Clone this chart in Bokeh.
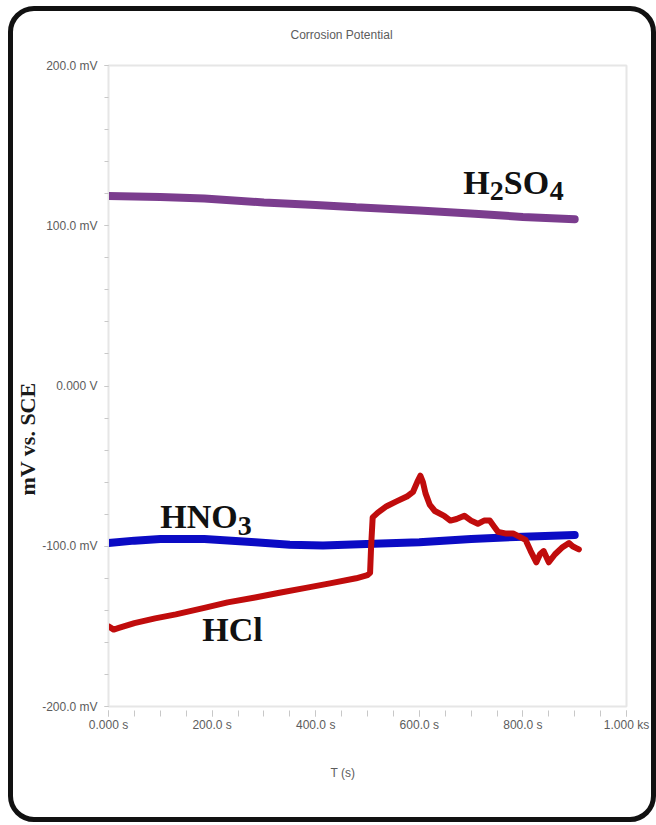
from bokeh.plotting import figure
from bokeh.models import Label, SingleIntervalTicker, Title
from bokeh.embed import file_html
from bokeh.resources import INLINE

# Open-circuit (corrosion) potential, mV vs. SCE, against time in seconds
h2so4_t = [0, 100, 185, 300, 400, 478, 600, 707, 800, 900]
h2so4_mv = [118.5, 118.0, 117.0, 114.5, 113.0, 111.5, 109.5, 107.5, 105.5, 104.0]

hno3_t = [0, 50, 100, 185, 283, 350, 414, 512, 600, 700, 800, 900]
hno3_mv = [-98.0, -96.5, -95.5, -95.5, -97.5, -99.0, -99.5, -98.5, -97.5, -95.5, -94.0, -93.0]

hcl_t = [0, 10, 20, 50, 90, 130, 185, 230, 283, 330, 381, 430, 478, 500, 505,
         507, 510, 520, 537, 556, 576, 588, 596, 602, 607, 612, 620, 630, 648,
         660, 672, 687, 700, 713, 725, 736, 745, 752, 766, 781, 793, 805, 815,
         826, 833, 840, 850, 862, 875, 889, 896, 902, 908]
hcl_mv = [-150.0, -152.0, -151.0, -148.0, -145.0, -142.5, -138.5, -135.0, -132.0,
          -129.0, -126.0, -123.0, -120.0, -118.0, -116.5,
          -100.0, -82.0, -79.0, -75.0, -72.0, -69.0, -66.0, -60.0, -56.0, -60.0,
          -67.0, -74.0, -78.0, -81.0, -84.0, -83.0, -81.0, -84.0, -86.0, -84.0,
          -84.0, -88.0, -91.0, -92.0, -92.0, -94.0, -96.0, -103.0, -110.0, -105.0,
          -103.0, -110.0, -105.0, -101.0, -98.0, -100.0, -101.0, -102.0]

y_ticks = [-200, -100, 0, 100, 200]
y_tick_labels = ["-200.0 mV", "-100.0 mV", "0.000 V", "100.0 mV", "200.0 mV"]
x_ticks = [0, 200, 400, 600, 800, 1000]
x_tick_labels = ["0.000 s", "200.0 s", "400.0 s", "600.0 s", "800.0 s", "1.000 ks"]

GREY = "#5c5c5c"

p = figure(width=648, height=816, x_range=(0, 1000), y_range=(-200, 200),
           output_backend="svg", toolbar_location=None,
           min_border_left=100, min_border_right=30, min_border_top=58,
           min_border_bottom=116)
# rounded black frame drawn inside the element box; the canvas is left
# unfilled so that the frame shows through on the white page
p.styles = {"outline": "5px solid #111111", "outline-offset": "-5px",
            "border-radius": "26px", "background-color": "white",
            "margin-left": "8px", "margin-top": "6px"}
p.border_fill_color = None
p.background_fill_color = None

p.title.text = "Corrosion Potential"
p.title.align = "left"
p.title.offset = 182
p.title.vertical_align = "top"
p.title.standoff = 43
p.title.text_font = "Liberation Sans"
p.title.text_font_size = "12px"
p.title.text_font_style = "normal"
p.title.text_color = GREY

p.xgrid.visible = False
p.ygrid.visible = False
p.outline_line_color = "#e6e6e6"
p.outline_line_width = 2

xa = p.xaxis[0]
xa.ticker = SingleIntervalTicker(interval=200, num_minor_ticks=4)
xa.major_label_overrides = dict(zip(x_ticks, x_tick_labels))
xa.axis_line_color = None
xa.major_tick_in = -4
xa.major_tick_out = 10
xa.minor_tick_in = -4
xa.minor_tick_out = 10
xa.major_tick_line_color = "#c8c8c8"
xa.minor_tick_line_color = "#c8c8c8"
xa.major_label_standoff = 1
xa.major_label_text_font = "Liberation Sans"
xa.major_label_text_font_size = "12px"
xa.major_label_text_color = GREY

ya = p.yaxis[0]
ya.ticker = SingleIntervalTicker(interval=100, num_minor_ticks=5)
ya.major_label_overrides = dict(zip(y_ticks, y_tick_labels))
ya.axis_line_color = "#e6e6e6"
ya.major_tick_in = 0
ya.major_tick_out = 4
ya.minor_tick_in = 0
ya.minor_tick_out = 4
ya.major_tick_line_color = "#c8c8c8"
ya.minor_tick_line_color = "#c8c8c8"
ya.major_label_standoff = 7
ya.major_label_text_font = "Liberation Sans"
ya.major_label_text_font_size = "12px"
ya.major_label_text_color = GREY

# axis titles, set in their own side panels so they can be nudged
p.add_layout(Title(text="T (s)", align="left", offset=222, standoff=59,
                   text_font="Liberation Sans", text_font_size="12px",
                   text_font_style="normal", text_color=GREY), "below")
p.add_layout(Title(text="mV vs. SCE", align="left", offset=211, standoff=0,
                   text_font="Liberation Serif", text_font_size="22px",
                   text_font_style="bold", text_color="#1a1a1a"), "left")

# the three potential traces
p.line(h2so4_t, h2so4_mv, line_color="#7b3d8e", line_width=8, line_cap="round")
p.line(hno3_t, hno3_mv, line_color="#0b0bc4", line_width=8, line_cap="round")
p.line(hcl_t, hcl_mv, line_color="#c00c0c", line_width=6, line_cap="round",
       line_join="round")

# series names with subscripts, built from pieces
BIG, SMALL = "34px", "28px"
LIFT = 11  # raise the text so its baseline sits on the anchor


def formula(x, y, pieces):
    for txt, dx, sub in pieces:
        p.add_layout(Label(x=x, y=y, x_offset=dx,
                           y_offset=LIFT - 9 if sub else LIFT,
                           text=txt, text_align="left",
                           text_baseline="alphabetic",
                           text_font="Liberation Serif", text_font_style="bold",
                           text_font_size=SMALL if sub else BIG,
                           text_color="#111111"))


formula(685, 120.2, [("H", 0, False), ("2", 26.5, True), ("SO", 40.5, False),
                     ("4", 86.5, True)])
formula(100, -88.5, [("HNO", 0, False), ("3", 77.5, True)])
formula(181, -158.9, [("HCl", 0, False)])

open("out.html", "w").write(file_html(p, INLINE))
